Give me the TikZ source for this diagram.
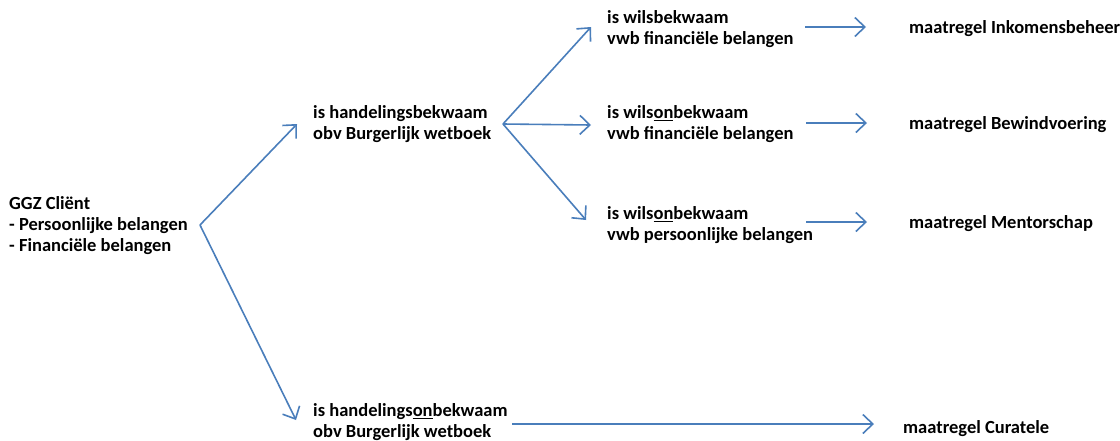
\documentclass[tikz,border=0pt]{standalone}
\usepackage{fontspec}
\setmainfont{Carlito}
\usetikzlibrary{arrows.meta}
\definecolor{lineblue}{RGB}{74,126,187}
\tikzset{
  lbl/.style={anchor=west, align=left, inner sep=0pt, font=\fontsize{18.5}{21}\selectfont\bfseries, text=black},
  arr/.style={draw=lineblue, line width=1.6pt, -{Straight Barb[length=10pt,width=19pt,line width=1.6pt]}},
}
\begin{document}
\begin{tikzpicture}[x=1pt,y=-1pt]
\useasboundingbox (0,0) rectangle (1120,440);
% nodes
\node[lbl] (ggz) at (9,226) {GGZ Cliënt\\- Persoonlijke belangen\\- Financiële belangen};
\node[lbl] (hb) at (313,124.5) {is handelingsbekwaam\\obv Burgerlijk wetboek};
\node[lbl] (hob) at (313,422.5) {is handelings\underline{on}bekwaam\\obv Burgerlijk wetboek};
\node[lbl] (wb) at (607,29.5) {is wilsbekwaam\\vwb financiële belangen};
\node[lbl] (wob1) at (607,124.5) {is wils\underline{on}bekwaam\\vwb financiële belangen};
\node[lbl] (wob2) at (607,225) {is wils\underline{on}bekwaam\\vwb persoonlijke belangen};
\node[lbl] (ink) at (909,29) {maatregel Inkomensbeheer};
\node[lbl] (bew) at (909,125) {maatregel Bewindvoering};
\node[lbl] (men) at (909,224) {maatregel Mentorschap};
\node[lbl] (cur) at (903,429) {maatregel Curatele};
% junctions and arrow ends
\coordinate (j0) at (200,225);
\coordinate (j1) at (503,124);
\coordinate (thb) at (297,124);
\coordinate (thob) at (296,420);
\coordinate (twb) at (591,27);
\coordinate (twob1) at (591,125);
\coordinate (twob2) at (586,220);
\coordinate (s1) at (805,27);  \coordinate (e1) at (866,27);
\coordinate (s2) at (806,123); \coordinate (e2) at (867,123);
\coordinate (s3) at (806,222); \coordinate (e3) at (867,222);
\coordinate (s4) at (512,424); \coordinate (e4) at (874,424);
% connectors
\draw[arr] (j0) -- (thb);
\draw[arr] (j0) -- (thob);
\draw[arr] (j1) -- (twb);
\draw[arr] (j1) -- (twob1);
\draw[arr] (j1) -- (twob2);
\draw[arr] (s1) -- (e1);
\draw[arr] (s2) -- (e2);
\draw[arr] (s3) -- (e3);
\draw[arr] (s4) -- (e4);
\end{tikzpicture}
\end{document}
